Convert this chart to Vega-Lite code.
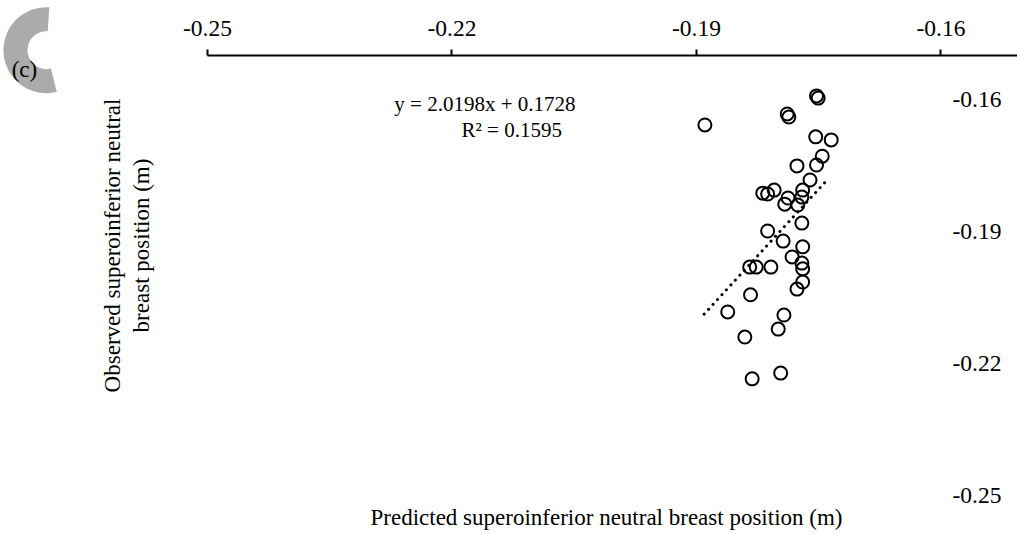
{
  "$schema": "https://vega.github.io/schema/vega-lite/v6.json",
  "width": 810,
  "height": 440,
  "autosize": {"type": "none"},
  "padding": {"left": 207, "top": 55, "right": 0, "bottom": 39},
  "background": "white",
  "config": {"view": {"stroke": null}, "font": "Liberation Serif", "axis": {"grid": false}},
  "datasets": {
    "points": [
      {"predicted": -0.1889, "observed": -0.1659},
      {"predicted": -0.1788, "observed": -0.1634},
      {"predicted": -0.1786, "observed": -0.1641},
      {"predicted": -0.1752, "observed": -0.1593},
      {"predicted": -0.1750, "observed": -0.1598},
      {"predicted": -0.1753, "observed": -0.1686},
      {"predicted": -0.1734, "observed": -0.1693},
      {"predicted": -0.1745, "observed": -0.1730},
      {"predicted": -0.1776, "observed": -0.1752},
      {"predicted": -0.1752, "observed": -0.1750},
      {"predicted": -0.1760, "observed": -0.1784},
      {"predicted": -0.1818, "observed": -0.1814},
      {"predicted": -0.1812, "observed": -0.1816},
      {"predicted": -0.1804, "observed": -0.1807},
      {"predicted": -0.1769, "observed": -0.1807},
      {"predicted": -0.1787, "observed": -0.1825},
      {"predicted": -0.1791, "observed": -0.1839},
      {"predicted": -0.1770, "observed": -0.1823},
      {"predicted": -0.1775, "observed": -0.1841},
      {"predicted": -0.1770, "observed": -0.1882},
      {"predicted": -0.1812, "observed": -0.1900},
      {"predicted": -0.1793, "observed": -0.1923},
      {"predicted": -0.1769, "observed": -0.1936},
      {"predicted": -0.1782, "observed": -0.1959},
      {"predicted": -0.1770, "observed": -0.1973},
      {"predicted": -0.1769, "observed": -0.1986},
      {"predicted": -0.1834, "observed": -0.1982},
      {"predicted": -0.1826, "observed": -0.1982},
      {"predicted": -0.1808, "observed": -0.1982},
      {"predicted": -0.1769, "observed": -0.2016},
      {"predicted": -0.1776, "observed": -0.2032},
      {"predicted": -0.1833, "observed": -0.2045},
      {"predicted": -0.1861, "observed": -0.2084},
      {"predicted": -0.1792, "observed": -0.2091},
      {"predicted": -0.1799, "observed": -0.2123},
      {"predicted": -0.1840, "observed": -0.2141},
      {"predicted": -0.1796, "observed": -0.2223},
      {"predicted": -0.1831, "observed": -0.2236}
    ],
    "trend": [
      {"predicted": -0.1890, "observed": -0.2089},
      {"predicted": -0.1737, "observed": -0.1780}
    ],
    "notes": [
      {"predicted": -0.2159, "observed": -0.1614, "label": "y = 2.0198x + 0.1728"},
      {"predicted": -0.2126, "observed": -0.1673, "label": "R² = 0.1595"}
    ],
    "panel": [
      {"predicted": -0.2697, "observed": -0.1489, "label": "(c)"}
    ],
    "panelLabel": [
      {"predicted": -0.2724, "observed": -0.1534, "label": "(c)"}
    ]
  },
  "encoding": {
    "x": {
      "field": "predicted",
      "type": "quantitative",
      "scale": {"domain": [-0.25, -0.1506], "nice": false, "zero": false},
      "axis": {
        "orient": "top",
        "values": [-0.25, -0.22, -0.19, -0.16],
        "labelExpr": "'-' + format(abs(datum.value), '.2f')",
        "domainColor": "black",
        "domainWidth": 2,
        "tickColor": "black",
        "tickWidth": 2,
        "tickSize": 6,
        "labelFont": "Liberation Serif",
        "labelFontSize": 23.5,
        "labelColor": "black",
        "labelPadding": 14,
        "labelBaseline": "alphabetic",
        "labelFlush": false,
        "labelOverlap": false,
        "title": "Predicted superoinferior neutral breast position (m)",
        "titleFont": "Liberation Serif",
        "titleFontSize": 23,
        "titleFontWeight": "normal",
        "titleColor": "black",
        "titleX": 399,
        "titleY": 462,
        "titleAngle": 0,
        "titleAlign": "center",
        "titleBaseline": "middle"
      }
    },
    "y": {
      "field": "observed",
      "type": "quantitative",
      "scale": {"domain": [-0.25, -0.15], "nice": false, "zero": false},
      "axis": {
        "orient": "right",
        "offset": -65,
        "values": [-0.16, -0.19, -0.22, -0.25],
        "labelExpr": "'-' + format(abs(datum.value), '.2f')",
        "domain": false,
        "ticks": false,
        "labelAlign": "left",
        "labelBaseline": "middle",
        "labelPadding": 0,
        "labelFont": "Liberation Serif",
        "labelFontSize": 23.5,
        "labelColor": "black",
        "labelFlush": false,
        "labelOverlap": false,
        "title": ["Observed superoinferior neutral", "breast position (m)"],
        "titleFont": "Liberation Serif",
        "titleFontSize": 23,
        "titleFontWeight": "normal",
        "titleColor": "black",
        "titleAngle": 270,
        "titleX": -840,
        "titleY": 190,
        "titleAlign": "center",
        "titleBaseline": "middle",
        "titleLineHeight": 29
      }
    }
  },
  "layer": [
    {
      "data": {"name": "panel"},
      "mark": {"type": "arc", "theta": 2.9, "theta2": 6.35, "radius": 43, "radius2": 19, "color": "#ababab"}
    },
    {
      "data": {"name": "panelLabel"},
      "mark": {"type": "text", "font": "Liberation Serif", "fontSize": 23, "color": "black", "align": "center", "baseline": "middle"},
      "encoding": {"text": {"field": "label"}}
    },
    {
      "data": {"name": "trend"},
      "mark": {"type": "line", "color": "black", "strokeWidth": 3, "strokeDash": [0.1, 6.5], "strokeCap": "round"},
      "encoding": {}
    },
    {
      "data": {"name": "points"},
      "mark": {"type": "point", "shape": "circle", "filled": false, "stroke": "black", "strokeWidth": 2, "size": 169, "opacity": 1}
    },
    {
      "data": {"name": "notes"},
      "mark": {"type": "text", "font": "Liberation Serif", "fontSize": 21, "color": "black", "align": "center", "baseline": "middle"},
      "encoding": {"text": {"field": "label"}}
    }
  ]
}
